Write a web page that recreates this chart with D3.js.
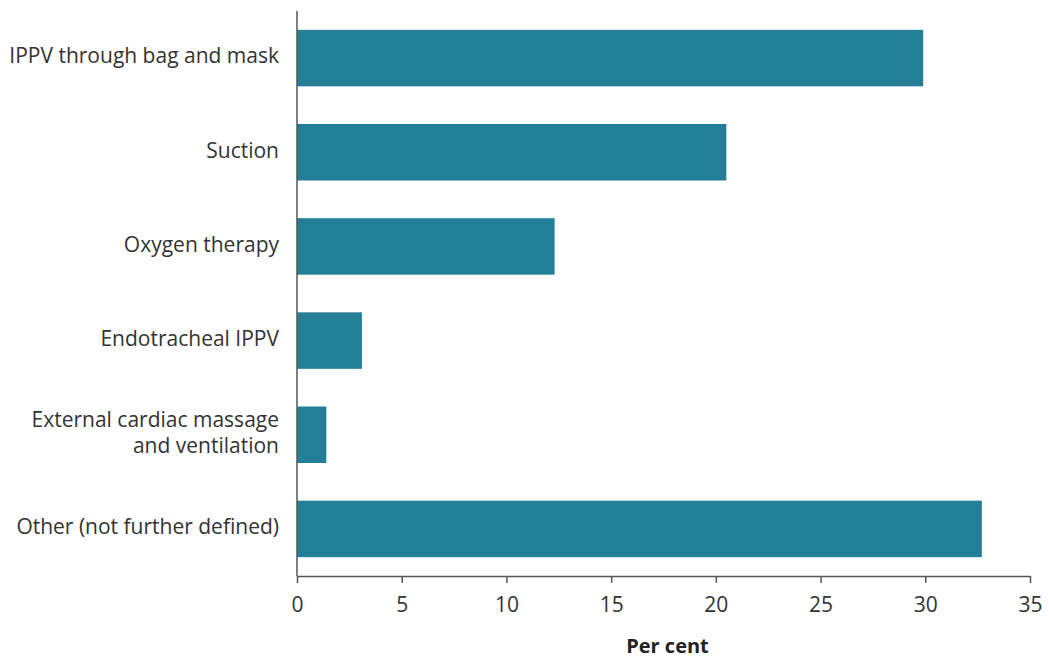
<!DOCTYPE html>
<html><head><meta charset="utf-8">
<script src="https://cdn.jsdelivr.net/npm/d3@7"></script>
<style>body{margin:0;background:#fff}svg{display:block}text{font-family:"Open Sans",sans-serif}</style>
</head><body>
<svg id="c" width="1049" height="659"></svg>
<script>
const categories = [["IPPV through bag and mask"],["Suction"],["Oxygen therapy"],["Endotracheal IPPV"],["External cardiac massage","and ventilation"],["Other (not further defined)"]];
const values = [29.9, 20.5, 12.3, 3.1, 1.4, 32.7];
const xTicks = [0,5,10,15,20,25,30,35];
const xTitle = "Per cent";

(function(){
const svg = d3.select("#c");
const mL = 297, mR = 1030, mT = 11, mB = 576;
const x = d3.scaleLinear().domain([0,35]).range([mL,mR]);
const y = d3.scaleBand().domain(d3.range(categories.length)).range([mT,mB]).paddingInner(0.4).paddingOuter(0.2);

svg.selectAll("rect.bar").data(values).join("rect")
  .attr("class","bar")
  .attr("x", x(0)).attr("y",(d,i)=>y(i))
  .attr("width", d=>x(d)-x(0)).attr("height", y.bandwidth())
  .attr("fill","#237f97");

const xa = svg.append("g").attr("transform",`translate(0,${mB})`)
  .call(d3.axisBottom(x).tickValues(xTicks).tickSize(7).tickPadding(14).tickSizeOuter(0));
xa.select(".domain").attr("stroke","#555").attr("stroke-width",1.5);
xa.selectAll(".tick line").attr("stroke","#555").attr("stroke-width",1.5);
xa.selectAll(".tick text").attr("font-size",21).attr("fill","#333").attr("font-family","Open Sans");

svg.append("line").attr("x1",mL).attr("x2",mL).attr("y1",mT).attr("y2",mB)
  .attr("stroke","#555").attr("stroke-width",1.5);

categories.forEach((lines,i)=>{
  const cy = y(i)+y.bandwidth()/2 - 2;
  const lh = 26;
  lines.forEach((l,j)=>{
    svg.append("text").attr("text-anchor","end").attr("font-size",21).attr("fill","#333")
      .attr("x",279).attr("y", cy + (j-(lines.length-1)/2)*lh).attr("dy","0.35em").text(l);
  });
});

svg.append("text").attr("x",(mL+mR)/2+4).attr("y",653).attr("text-anchor","middle")
  .attr("font-size",20).attr("font-weight","bold").attr("fill","#222").text(xTitle);
})();
</script>
</body></html>
